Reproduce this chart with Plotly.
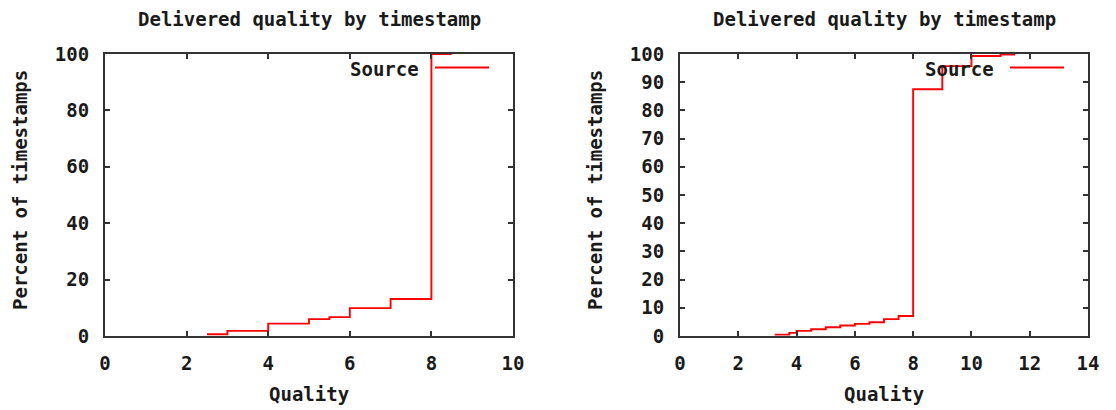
import plotly.graph_objects as go
from plotly.subplots import make_subplots

# Cumulative share of timestamps at or below each delivered quality level
left_quality = [2.5, 3, 4, 5, 5.5, 6, 7, 8, 8.5]
left_percent = [0.6, 1.8, 4.4, 6.0, 6.7, 9.9, 13.1, 100, 100]

right_quality = [3.25, 3.75, 4, 4.5, 5, 5.5, 6, 6.5, 7, 7.5, 8, 9, 10, 11, 11.5]
right_percent = [0.5, 1.1, 1.8, 2.4, 3.1, 3.7, 4.3, 4.9, 6.0, 7.1, 87.5, 95.7, 99.3, 99.8, 99.8]

left_xticks = [0, 2, 4, 6, 8, 10]
left_yticks = [0, 20, 40, 60, 80, 100]
right_xticks = [0, 2, 4, 6, 8, 10, 12, 14]
right_yticks = [0, 10, 20, 30, 40, 50, 60, 70, 80, 90, 100]

title_text = "Delivered quality by timestamp"
xlabel = "Quality"
ylabel = "Percent of timestamps"
series_name = "Source"

W, H = 1116, 410
FONT = "DejaVu Sans Mono"
FSIZE = 19
INK = "#1a1a1a"
FRAME = "#333333"
RED = "#ff0000"
LINE_W = 1.9


def px(x):
    return x / W


def py(y):
    return 1 - y / H


fig = make_subplots(rows=1, cols=2)

fig.add_trace(go.Scatter(x=left_quality, y=left_percent, mode="lines",
                         line=dict(color=RED, width=LINE_W, shape="hv"),
                         name=series_name, showlegend=False), row=1, col=1)
fig.add_trace(go.Scatter(x=right_quality, y=right_percent, mode="lines",
                         line=dict(color=RED, width=LINE_W, shape="hv"),
                         name=series_name, showlegend=False), row=1, col=2)

panels = [
    # (x-axis name, y-axis name, left px, right px, x range, x ticks, y ticks)
    ("xaxis", "yaxis", 105, 513, [0, 10], left_xticks, left_yticks),
    ("xaxis2", "yaxis2", 680, 1088, [0, 14], right_xticks, right_yticks),
]
top, bottom = 54, 336

axis_common = dict(
    automargin=False,
    showgrid=False, zeroline=False,
    showline=True, mirror="ticks", linecolor=FRAME, linewidth=2,
    ticks="inside", ticklen=5, tickwidth=1.5, tickcolor=FRAME,
    tickfont=dict(family=FONT, size=FSIZE, color=INK, weight="bold"),
)

annotations = []
shapes = []
for xa, ya, x0, x1, xr, xt, yt in panels:
    fig.layout[xa].update(domain=[px(x0), px(x1)], range=xr, tickvals=xt,
                          ticklabelstandoff=9, **axis_common)
    fig.layout[ya].update(domain=[py(bottom), py(top)], range=[0, 100], tickvals=yt,
                          ticklabelstandoff=10, **axis_common)
    cx = (x0 + x1) / 2
    bold = dict(family=FONT, size=FSIZE, color=INK, weight="bold")
    annotations.append(dict(text=title_text, x=px(cx), y=py(19), xref="paper", yref="paper",
                            showarrow=False, xanchor="center", yanchor="middle", font=bold))
    annotations.append(dict(text=xlabel, x=px(cx), y=py(394), xref="paper", yref="paper",
                            showarrow=False, xanchor="center", yanchor="middle", font=bold))
    annotations.append(dict(text=ylabel, x=px(x0 - 85), y=py(190), xref="paper", yref="paper",
                            showarrow=False, xanchor="center", yanchor="middle",
                            textangle=-90, font=bold))
    # Key: label followed by a line sample, inside the top-right corner
    annotations.append(dict(text=series_name, x=px(x1 - 92), y=py(69), xref="paper", yref="paper",
                            showarrow=False, xanchor="right", yanchor="middle", font=bold))
    shapes.append(dict(type="line", xref="paper", yref="paper",
                       x0=px(x1 - 78), x1=px(x1 - 24), y0=py(67.5), y1=py(67.5),
                       line=dict(color=RED, width=LINE_W)))

fig.update_layout(
    width=W, height=H,
    margin=dict(l=0, r=0, t=0, b=0, autoexpand=False),
    paper_bgcolor="white", plot_bgcolor="white",
    showlegend=False,
    annotations=annotations,
    shapes=shapes,
)

fig.write_html("out.html")
